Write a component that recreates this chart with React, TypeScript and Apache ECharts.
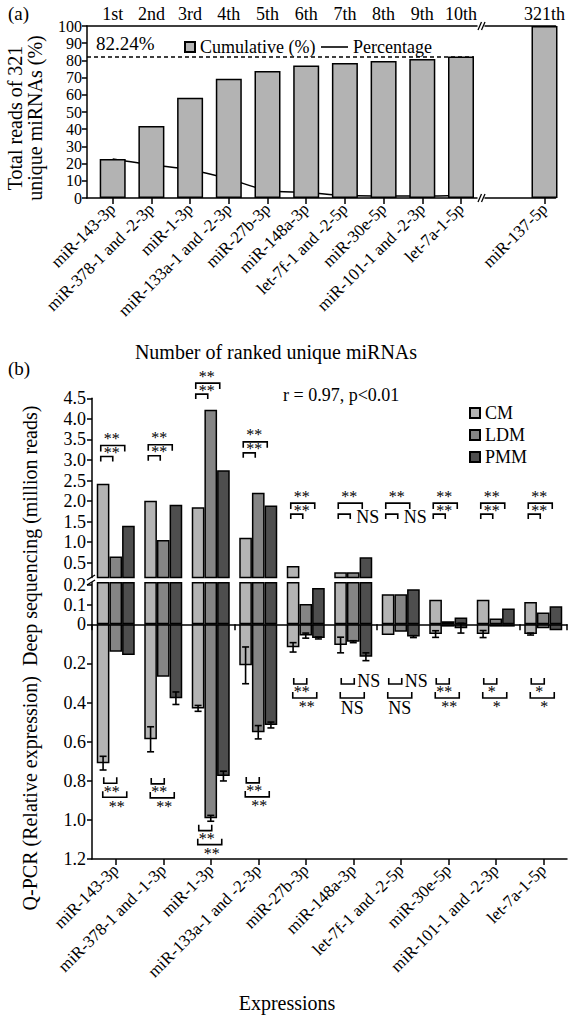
import React, { useEffect, useRef } from "react";
import * as echarts from "echarts";

// ---------- Panel (a) data ----------
const rankNames = [
  "miR-143-3p", "miR-378-1 and -2-3p", "miR-1-3p", "miR-133a-1 and -2-3p", "miR-27b-3p",
  "miR-148a-3p", "let-7f-1 and -2-5p", "miR-30e-5p", "miR-101-1 and -2-3p", "let-7a-1-5p",
];
const rankOrdinals = ["1st", "2nd", "3rd", "4th", "5th", "6th", "7th", "8th", "9th", "10th"];
const ranks = [1, 2, 3, 4, 5, 6, 7, 8, 9, 10];
const cumulative = [22.7, 41.9, 58.3, 69.4, 73.8, 77.0, 78.5, 79.7, 80.8, 82.24];
const percentage = [22.7, 19.3, 16.4, 11.1, 4.4, 3.3, 1.4, 1.2, 1.1, 1.4];
const lastRanks = [321];
const lastNames = ["miR-137-5p"];
const lastOrdinals = ["321th"];
const lastCumulative = [100];
const top10Total = 82.24;
const yTicksA = [0, 10, 20, 30, 40, 50, 60, 70, 80, 90, 100];

// ---------- Panel (b) data ----------
const exprNames = [
  "miR-143-3p", "miR-378-1 and -1-3p", "miR-1-3p", "miR-133a-1 and -2-3p", "miR-27b-3p",
  "miR-148a-3p", "let-7f-1 and -2-5p", "miR-30e-5p", "miR-101-1 and -2-3p", "let-7a-1-5p",
];
const groups = ["CM", "LDM", "PMM"];
const deepCM = [2.42, 2.01, 1.85, 1.11, 0.42, 0.27, 0.154, 0.125, 0.125, 0.114];
const deepLDM = [0.65, 1.05, 4.22, 2.2, 0.104, 0.27, 0.154, 0.016, 0.03, 0.06];
const deepPMM = [1.4, 1.91, 2.75, 1.89, 0.185, 0.63, 0.179, 0.035, 0.08, 0.092];
const qCM = [0.71, 0.588, 0.43, 0.21, 0.118, 0.106, 0.055, 0.05, 0.05, 0.05];
const qLDM = [0.14, 0.268, 0.992, 0.552, 0.058, 0.089, 0.038, 0.012, 0.012, 0.02];
const qPMM = [0.157, 0.378, 0.776, 0.515, 0.07, 0.166, 0.063, 0.02, 0.012, 0.03];
const errCM = [0.035, 0.064, 0.015, 0.094, 0.024, 0.04, 0, 0.017, 0.018, 0.005];
const errLDM = [0, 0, 0.015, 0.034, 0.013, 0.005, 0, 0, 0, 0];
const errPMM = [0, 0.032, 0.025, 0.015, 0.005, 0.02, 0.005, 0.025, 0, 0];
const deepTicks = [0.5, 1.0, 1.5, 2.0, 2.5, 3.0, 3.5, 4.0, 4.5];
const lowerTicks = [-0.2, -0.1, 0, 0.2, 0.4, 0.6, 0.8, 1.0, 1.2];

// significance annotations
const upAnnoLevel = [3.35, 3.37, 4.87, 3.44, 1.95, 1.95, 1.95, 1.95, 1.95, 1.95];
const upOuterLabel = ["**", "**", "**", "**", "**", "**", "**", "**", "**", "**"];
const upInnerLabel = ["**", "**", "**", "**", "**", "NS", "NS", "**", "**", "**"];
const lowAnnoLevel = [0.813, 0.816, 1.055, 0.811, 0.305, 0.305, 0.305, 0.305, 0.305, 0.305];
const lowInnerLabel = ["**", "**", "**", "**", "**", "NS", "NS", "**", "*", "*"];
const lowOuterLabel = ["**", "**", "**", "**", "**", "NS", "NS", "**", "*", "*"];

const colors = ["#b4b4b4", "#858585", "#4e4e4e"];
const barColorA = "#b3b3b3";
const SERIF = "Liberation Serif";

export default function App() {
  const ref = useRef<HTMLDivElement>(null);
  useEffect(() => {
    const el = ref.current;
    if (!el) return;
    const chart = echarts.init(el, undefined, { renderer: "svg" });

    const aLeft = 87, aTop = 26, aHeight = 172, aWidth1 = 390, aLeft2 = 485, aWidth2 = 83;
    const pxPerRank = 38.7, firstTickOffset = 25.7, lastTickOffset2 = 70;
    const xMinA = ranks[0] - firstTickOffset / pxPerRank;
    const xMaxA = xMinA + aWidth1 / pxPerRank;
    const xMinA2 = lastRanks[0] - lastTickOffset2 / pxPerRank;
    const xMaxA2 = xMinA2 + aWidth2 / pxPerRank;
    const barWA = 26;
    const upperMin = 0.14;
    const lowerTop = 0.2;

    const deep = [deepCM, deepLDM, deepPMM];
    const q = [qCM, qLDM, qPMM];
    const errs = [errCM, errLDM, errPMM];

    const black = "#000000";
    const axisLine = { show: true, lineStyle: { color: black, width: 1.5 } };
    const noSplit = { show: false };
    const tickStyle = { width: 1.5, color: black };
    const txt = (size: number) => ({ fontFamily: SERIF, fontSize: size, color: black });
    const yLab = { showMinLabel: true, showMaxLabel: true, hideOverlap: false, lineHeight: 13 };

    const errData: number[][] = [];
    for (let s = 0; s < 3; s++) for (let i = 0; i < 10; i++) errData.push([i, s, q[s][i], errs[s][i]]);

    const bracketStyle = { stroke: black, lineWidth: 1.6, fill: null };
    const mark = (t: string, x: number, y: number, align = "center") => ({
      type: "text",
      style: {
        text: t, x, y: t === "NS" ? y : y + 2, align, verticalAlign: "middle",
        fontSize: t === "NS" ? 18 : 16, lineHeight: t === "NS" ? 12 : 9, fontFamily: SERIF, fill: black,
      },
    });

    const option: any = {
      animation: false,
      textStyle: { fontFamily: SERIF },
      grid: [
        { left: aLeft, top: aTop, width: aWidth1, height: aHeight },
        { left: aLeft2, top: aTop, width: aWidth2, height: aHeight },
        { left: 92, top: 398.3, width: 475, height: 179.2 },
        { left: 92, top: 582.8, width: 475, height: 276.2 },
      ],
      xAxis: [
        {
          gridIndex: 0, type: "value", min: xMinA, max: xMaxA, position: "bottom",
          axisLine: { ...axisLine, onZero: false }, splitLine: noSplit,
          axisTick: { show: true, customValues: ranks, length: 6, lineStyle: tickStyle },
          axisLabel: {
            customValues: ranks, rotate: 45, margin: 8, hideOverlap: false, ...txt(17),
            formatter: (v: number) => rankNames[Math.round(v) - 1] || "",
          },
        },
        {
          gridIndex: 0, type: "value", min: xMinA, max: xMaxA, position: "top",
          axisLine: { ...axisLine, onZero: false }, splitLine: noSplit, axisTick: { show: false },
          axisLabel: {
            customValues: ranks, margin: 3, hideOverlap: false, ...txt(18),
            formatter: (v: number) => rankOrdinals[Math.round(v) - 1] || "",
          },
        },
        {
          gridIndex: 1, type: "value", min: xMinA2, max: xMaxA2, position: "bottom",
          axisLine: { ...axisLine, onZero: false }, splitLine: noSplit,
          axisTick: { show: true, customValues: lastRanks, length: 6, lineStyle: tickStyle },
          axisLabel: {
            customValues: lastRanks, rotate: 45, margin: 8, ...txt(17),
            formatter: (v: number) => lastNames[lastRanks.indexOf(Math.round(v))] || "",
          },
        },
        {
          gridIndex: 1, type: "value", min: xMinA2, max: xMaxA2, position: "top",
          axisLine: { ...axisLine, onZero: false }, splitLine: noSplit, axisTick: { show: false },
          axisLabel: {
            customValues: lastRanks, margin: 3, ...txt(18),
            formatter: (v: number) => lastOrdinals[lastRanks.indexOf(Math.round(v))] || "",
          },
        },
        { gridIndex: 2, type: "category", data: exprNames, show: false },
        {
          gridIndex: 3, type: "category", data: exprNames, position: "bottom",
          axisLine: { ...axisLine, onZero: false },
          axisTick: { show: true, alignWithLabel: true, length: 6, lineStyle: tickStyle },
          axisLabel: { rotate: 45, margin: 8, interval: 0, hideOverlap: false, ...txt(17) },
        },
        {
          gridIndex: 3, type: "category", data: exprNames, position: "bottom",
          axisLine: { ...axisLine, onZero: true },
          axisTick: { show: true, length: 6, lineStyle: tickStyle },
          axisLabel: { show: false },
        },
      ],
      yAxis: [
        {
          gridIndex: 0, type: "value", min: 0, max: 100,
          axisLine: { ...axisLine, onZero: false }, splitLine: noSplit,
          axisTick: { show: true, customValues: yTicksA, length: 5, lineStyle: tickStyle },
          axisLabel: { customValues: yTicksA, margin: 5, ...yLab, ...txt(16) },
        },
        { gridIndex: 1, type: "value", min: 0, max: 100, show: false },
        {
          gridIndex: 2, type: "value", min: upperMin, max: 4.5,
          axisLine: { ...axisLine, onZero: false }, splitLine: noSplit,
          axisTick: { show: true, customValues: deepTicks, length: 5, lineStyle: tickStyle },
          axisLabel: { customValues: deepTicks, margin: 6, ...yLab, ...txt(18), formatter: (v: number) => v.toFixed(1) },
        },
        {
          gridIndex: 3, type: "value", min: -0.212, max: 1.2, inverse: true,
          axisLine: { ...axisLine, onZero: false }, splitLine: noSplit,
          axisTick: { show: true, customValues: lowerTicks, length: 5, lineStyle: tickStyle },
          axisLabel: {
            customValues: lowerTicks, margin: 6, ...yLab, ...txt(18),
            formatter: (v: number) => (Math.abs(v) < 1e-9 ? "0" : Math.abs(v).toFixed(1)),
          },
        },
      ],
      legend: [
        {
          data: [{ name: "Cumulative (%)", icon: "rect" }], left: 179, top: 33, itemWidth: 10, itemHeight: 10,
          textStyle: txt(18), selectedMode: false,
        },
        {
          data: [{ name: "Percentage", icon: "rect" }], left: 316, top: 33, itemWidth: 27, itemHeight: 1.6,
          itemStyle: { color: black, borderWidth: 0 },
          textStyle: txt(18), selectedMode: false,
        },
        {
          data: groups.map((g) => ({ name: g, icon: "rect" })), orient: "vertical", left: 464, top: 399,
          itemWidth: 10, itemHeight: 10, itemGap: 4,
          textStyle: txt(18), selectedMode: false,
        },
      ],
      series: [
        {
          name: "Percentage", type: "line", xAxisIndex: 0, yAxisIndex: 0, z: 1,
          data: ranks.map((r, i) => [r, percentage[i]]), smooth: 0.3, symbol: "none",
          lineStyle: { color: black, width: 1.5 }, itemStyle: { color: black },
        },
        {
          name: "Cumulative (%)", type: "bar", xAxisIndex: 0, yAxisIndex: 0, z: 2, barWidth: barWA,
          data: ranks.map((r, i) => [r, cumulative[i]]),
          itemStyle: { color: barColorA, borderColor: black, borderWidth: 1.5 },
          markLine: {
            silent: true, symbol: "none", label: { show: false },
            lineStyle: { type: [4, 3], color: black, width: 1.5 },
            data: [[
              { coord: [xMinA, top10Total] },
              { coord: [ranks[ranks.length - 1] + barWA / 2 / pxPerRank, top10Total] },
            ]],
          },
        },
        {
          name: "Cumulative (%)", type: "bar", xAxisIndex: 2, yAxisIndex: 1, barWidth: barWA,
          data: lastRanks.map((r, i) => [r, lastCumulative[i]]),
          itemStyle: { color: barColorA, borderColor: black, borderWidth: 1.5 },
        },
        ...groups.map((g, s) => ({
          name: g, type: "bar", xAxisIndex: 4, yAxisIndex: 2,
          data: deep[s].map((v) => (v > lowerTop ? v : null)),
          barGap: "0%", barCategoryGap: "20%",
          itemStyle: { color: colors[s], borderColor: black, borderWidth: 1.5 },
        })),
        ...groups.flatMap((g, s) => [
          {
            name: g, type: "bar", xAxisIndex: 5, yAxisIndex: 3, stack: g, data: deep[s].map((v) => -v),
            barGap: "0%", barCategoryGap: "20%",
            itemStyle: { color: colors[s], borderColor: black, borderWidth: 1.5 },
          },
          {
            name: g, type: "bar", xAxisIndex: 5, yAxisIndex: 3, stack: g, data: q[s],
            barGap: "0%", barCategoryGap: "20%",
            itemStyle: { color: colors[s], borderColor: black, borderWidth: 1.5 },
          },
        ]),
        {
          type: "custom", xAxisIndex: 5, yAxisIndex: 3, z: 5, clip: false,
          itemStyle: { color: black },
          data: errData, encode: { x: 0, y: 2 },
          renderItem: (params: any, api: any) => {
            const err = api.value(3);
            if (!(err > 0)) return null;
            const idx = api.value(0), s = api.value(1), v = api.value(2);
            const band = api.size([1, 0])[0];
            const bw = (band * 0.8) / 3;
            const cx = api.coord([idx, 0])[0] + (s - 1) * bw;
            const y1 = api.coord([idx, v - err])[1];
            const y2 = api.coord([idx, v + err])[1];
            const cap = 3.5;
            const st = { stroke: black, lineWidth: 1.6 };
            return {
              type: "group",
              children: [
                { type: "line", shape: { x1: cx, y1, x2: cx, y2 }, style: st },
                { type: "line", shape: { x1: cx - cap, y1, x2: cx + cap, y2: y1 }, style: st },
                { type: "line", shape: { x1: cx - cap, y1: y2, x2: cx + cap, y2 }, style: st },
              ],
            };
          },
        },
        {
          type: "custom", xAxisIndex: 4, yAxisIndex: 2, z: 5, clip: false,
          itemStyle: { color: black },
          data: upAnnoLevel.map((v, i) => [i, v]), encode: { x: 0, y: 1 },
          renderItem: (params: any, api: any) => {
            const i = params.dataIndex;
            const p = api.coord([api.value(0), api.value(1)]);
            const cx = p[0], Y = p[1];
            const children: any[] = [
              { type: "polyline", shape: { points: [[cx - 15, Y + 6], [cx - 15, Y], [cx + 9, Y], [cx + 9, Y + 6]] }, style: bracketStyle },
              mark(upOuterLabel[i], cx - 4, Y - 9),
              { type: "polyline", shape: { points: [[cx - 15, Y + 16], [cx - 15, Y + 11], [cx - 3, Y + 11], [cx - 3, Y + 16]] }, style: bracketStyle },
            ];
            if (upInnerLabel[i] === "NS") children.push(mark("NS", cx + 3, Y + 14, "left"));
            else children.push(mark(upInnerLabel[i], cx - 4, Y + 5));
            return { type: "group", children };
          },
        },
        {
          type: "custom", xAxisIndex: 5, yAxisIndex: 3, z: 5, clip: false,
          itemStyle: { color: black },
          data: lowAnnoLevel.map((v, i) => [i, v]), encode: { x: 0, y: 1 },
          renderItem: (params: any, api: any) => {
            const i = params.dataIndex;
            const p = api.coord([api.value(0), api.value(1)]);
            const cx = p[0], Y = p[1];
            const children: any[] = [
              { type: "polyline", shape: { points: [[cx - 12, Y - 6], [cx - 12, Y], [cx + 1, Y], [cx + 1, Y - 6]] }, style: bracketStyle },
              { type: "polyline", shape: { points: [[cx - 13, Y + 8], [cx - 13, Y + 14], [cx + 11, Y + 14], [cx + 11, Y + 8]] }, style: bracketStyle },
            ];
            if (lowInnerLabel[i] === "NS") children.push(mark("NS", cx + 4, Y - 3, "left"));
            else children.push(mark(lowInnerLabel[i], cx - 4, Y + 6));
            if (lowOuterLabel[i] === "NS") children.push(mark("NS", cx - 1, Y + 24));
            else children.push(mark(lowOuterLabel[i], cx + 1, Y + 21));
            return { type: "group", children };
          },
        },
      ],
      graphic: [
        { type: "text", x: 8, y: 13, style: { text: "(a)", fontSize: 19, fontFamily: SERIF, fill: black, verticalAlign: "middle" } },
        { type: "text", x: 8, y: 368, style: { text: "(b)", fontSize: 19, fontFamily: SERIF, fill: black, verticalAlign: "middle" } },
        { type: "text", x: 96, y: 43, style: { text: `${top10Total}%`, fontSize: 19, fontFamily: SERIF, fill: black, verticalAlign: "middle" } },
        { type: "text", x: 283, y: 395, style: { text: "r = 0.97, p\u003c0.01", fontSize: 18, fontFamily: SERIF, fill: black, verticalAlign: "middle" } },
        {
          type: "text", x: 25, y: 118, rotation: Math.PI / 2,
          style: { text: "Total reads of 321\nunique miRNAs (%)", fontSize: 20, fontFamily: SERIF, lineHeight: 20, fill: black, align: "center", verticalAlign: "middle" },
        },
        {
          type: "text", x: 276, y: 352,
          style: { text: "Number of ranked unique miRNAs", fontSize: 20, fontFamily: SERIF, fill: black, align: "center", verticalAlign: "middle" },
        },
        {
          type: "text", x: 30, y: 658, rotation: Math.PI / 2,
          style: { text: "Q-PCR (Relative expression)  Deep sequencing (million reads)", fontSize: 20, fontFamily: SERIF, fill: black, align: "center", verticalAlign: "middle" },
        },
        {
          type: "text", x: 287, y: 1003,
          style: { text: "Expressions", fontSize: 20, fontFamily: SERIF, fill: black, align: "center", verticalAlign: "middle" },
        },
        { type: "line", shape: { x1: 478, y1: 30, x2: 481.5, y2: 22 }, style: { stroke: black, lineWidth: 1.3 } },
        { type: "line", shape: { x1: 481.5, y1: 30, x2: 485, y2: 22 }, style: { stroke: black, lineWidth: 1.3 } },
        { type: "line", shape: { x1: 478, y1: 202, x2: 481.5, y2: 194 }, style: { stroke: black, lineWidth: 1.3 } },
        { type: "line", shape: { x1: 481.5, y1: 202, x2: 485, y2: 194 }, style: { stroke: black, lineWidth: 1.3 } },
        { type: "line", shape: { x1: 87, y1: 580, x2: 95, y2: 575 }, style: { stroke: black, lineWidth: 1.3 } },
        { type: "line", shape: { x1: 87, y1: 585, x2: 95, y2: 580 }, style: { stroke: black, lineWidth: 1.3 } },
      ],
    };
    chart.setOption(option);
    return () => chart.dispose();
  }, []);
  return <div ref={ref} style={{ width: 568, height: 1021, position: "absolute", left: 0, top: 0 }} />;
}
